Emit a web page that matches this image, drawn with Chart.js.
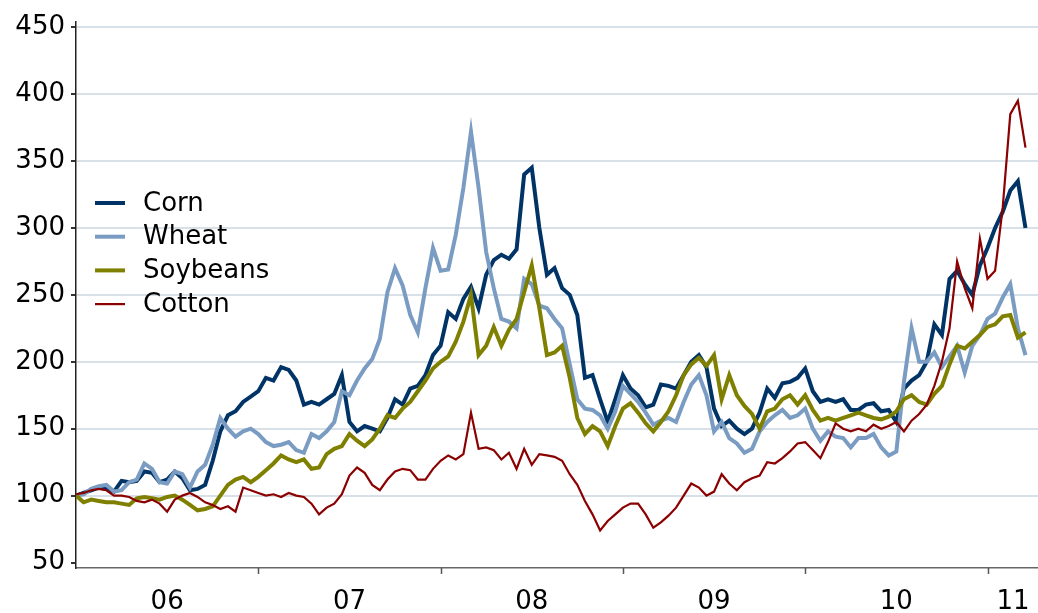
<!DOCTYPE html>
<html>
<head>
<meta charset="utf-8">
<script src="https://cdn.jsdelivr.net/npm/chart.js@4/dist/chart.umd.min.js"></script>
<style>
    html, body { margin: 0; padding: 0; background: #fff; }
    #wrap { width: 1038px; height: 613px; }
</style>
</head>
<body>
<div id="wrap"><canvas id="grains" width="1038" height="613"></canvas></div>
<script>
const startYear = 2006;
const stepsPerYear = 24;

const corn = [
    100, 102, 104, 106, 105, 103, 111, 110, 111, 118,
    117, 110, 112, 118, 113, 104, 105, 108, 126, 148,
    160, 163, 170, 174, 178, 188, 186, 196, 194, 186,
    168, 170, 168, 172, 176, 190, 155, 148, 152, 150,
    148, 158, 172, 168, 180, 182, 190, 205, 212, 237,
    232, 247, 256, 240, 265, 276, 280, 277, 284, 340,
    345, 300, 265, 270, 255, 250, 235, 188, 190, 172,
    155, 172, 190, 180, 175, 166, 168, 183, 182, 180,
    190, 200, 205, 196, 165, 152, 156, 150, 146, 150,
    162, 180, 173, 184, 185, 188, 195, 178, 170, 172,
    170, 172, 164, 164, 168, 169, 163, 164, 155, 180,
    186, 190, 200, 228, 220, 262, 268, 258, 250, 272,
    285, 300, 312, 328, 335, 300
];

const wheat = [
    100, 101, 105, 107, 108, 103, 104, 110, 112, 124,
    120, 110, 109, 118, 116, 106, 118, 123, 138, 158,
    150, 144, 148, 150, 146, 140, 137, 138, 140, 134,
    132, 146, 143, 148, 155, 178, 175, 186, 195, 202,
    217, 252, 270, 257, 235, 222, 255, 285, 268, 269,
    295, 330, 372, 330, 282, 255, 232, 230, 225, 262,
    258, 242, 240, 232, 225, 198, 172, 165, 164, 160,
    150, 163, 182, 176, 170, 162, 153, 156, 158, 155,
    170, 183, 190, 175, 148, 155, 143, 139, 132, 135,
    148, 155, 160, 164, 158, 160, 165, 150, 141, 148,
    144, 143, 136, 143, 143, 146, 136, 130, 133, 185,
    225, 200, 200, 207, 196, 204, 212, 192, 212, 220,
    232, 236, 248, 258, 225, 205
];

const soybeans = [
    100, 95, 97, 96, 95, 95, 94, 93, 98, 99,
    98, 97, 99, 100, 97, 93, 89, 90, 92, 100,
    108, 112, 114, 110, 114, 119, 124, 130, 127, 125,
    127, 120, 121, 131, 135, 137, 146, 141, 137, 142,
    150, 160, 158, 165, 170, 178, 186, 195, 200, 204,
    215, 230, 250, 205, 212, 226, 212, 224, 232, 252,
    272, 240, 205, 207, 212, 188, 158, 146, 152, 148,
    137, 152, 165, 169, 162, 154, 148, 155, 163, 175,
    190, 198, 203, 197, 205, 172, 190, 175, 167, 161,
    150, 163, 165, 172, 175, 168, 175, 164, 156, 158,
    156, 158, 160, 162, 160, 158, 157, 159, 163, 172,
    175, 170, 168, 176, 182, 198, 212, 210, 215, 220,
    226, 228, 234, 235, 218, 222
];

const cotton = [
    101, 102, 104, 105, 104, 100, 100, 99, 96, 95,
    97, 94, 88, 97, 100, 102, 99, 95, 93, 90,
    92, 88, 106, 104, 102, 100, 101, 99, 102, 100,
    99, 94, 86, 91, 94, 101, 115, 121, 117, 108,
    104, 112, 118, 120, 119, 112, 112, 120, 126, 130,
    127, 131, 162, 135, 136, 134, 127, 132, 120, 135,
    123, 131, 130, 129, 126, 116, 108, 96, 86, 74,
    81, 86, 91, 94, 94, 86, 76, 80, 85, 91,
    100, 109, 106, 100, 103, 116, 109, 104, 110, 113,
    115, 125, 124, 128, 133, 139, 140, 134, 128, 140,
    154, 150, 148, 150, 148, 153, 150, 152, 155, 148,
    156, 161, 168, 182, 200, 225, 275, 255, 240, 292,
    262, 268, 315, 385, 395, 360
];

const yTicks = [50, 100, 150, 200, 250, 300, 350, 400, 450];
const yearLabels = ['06', '07', '08', '09', '10', '11'];
const yearLabelPos = [2006.5, 2007.5, 2008.5, 2009.5, 2010.5, 2011.14];
const yearStarts = [2007, 2008, 2009, 2010, 2011];

const toPoints = (arr) => arr.map((v, i) => ({ x: startYear + i / stepsPerYear, y: v }));

const FONT = "'DejaVu Sans', Verdana, sans-serif";

const series = [
    { label: 'Corn', data: corn, color: '#003466', width: 4, order: 4 },
    { label: 'Wheat', data: wheat, color: '#7a9cc2', width: 4, order: 3 },
    { label: 'Soybeans', data: soybeans, color: '#808000', width: 4, order: 2 },
    { label: 'Cotton', data: cotton, color: '#8b0000', width: 2.2, order: 1 }
];

// legend drawn inside the plot, left side
const legendPlugin = {
    id: 'insideLegend',
    afterDatasetsDraw(chart) {
        const ctx = chart.ctx;
        ctx.save();
        ctx.font = '26px ' + FONT;
        ctx.textBaseline = 'middle';
        ctx.fillStyle = '#000';
        series.forEach((s, i) => {
            const y = 203 + i * 33.7;
            ctx.strokeStyle = s.color;
            ctx.lineWidth = s.width;
            ctx.beginPath();
            ctx.moveTo(95, y);
            ctx.lineTo(125, y);
            ctx.stroke();
            ctx.fillText(s.label, 143, y + 1);
        });
        ctx.restore();
    }
};

// tick marks at year boundaries on the x axis
const yearTickPlugin = {
    id: 'yearTicks',
    afterDraw(chart) {
        const xs = chart.scales.x;
        const ctx = chart.ctx;
        ctx.save();
        ctx.strokeStyle = '#555';
        ctx.lineWidth = 1.5;
        yearStarts.forEach(yr => {
            const px = Math.round(xs.getPixelForValue(yr)) + 0.5;
            ctx.beginPath();
            ctx.moveTo(px, xs.top);
            ctx.lineTo(px, xs.top + 6);
            ctx.stroke();
        });
        ctx.restore();
    }
};

new Chart(document.getElementById('grains'), {
    type: 'line',
    data: {
        datasets: series.map(s => ({
            label: s.label,
            data: toPoints(s.data),
            borderColor: s.color,
            backgroundColor: s.color,
            borderWidth: s.width,
            pointRadius: 0,
            tension: 0,
            fill: false,
            order: s.order
        }))
    },
    options: {
        responsive: false,
        animation: false,
        devicePixelRatio: 1,
        layout: { padding: { top: 17, right: 0, left: 0, bottom: 0 } },
        plugins: {
            legend: { display: false },
            tooltip: { enabled: false }
        },
        scales: {
            x: {
                type: 'linear',
                min: 2006,
                max: 2011.277,
                afterBuildTicks: (scale) => { scale.ticks = yearLabelPos.map(v => ({ value: v })); },
                afterFit: (scale) => {
                    scale.height = 45;
                    scale.paddingLeft = 0;
                    scale.paddingRight = 0;
                },
                grid: { display: false, drawTicks: false },
                border: { display: true, color: '#666', width: 1.5 },
                ticks: {
                    autoSkip: false,
                    maxRotation: 0,
                    padding: 19,
                    color: '#000',
                    font: { family: FONT, size: 26 },
                    callback: (value, index) => yearLabels[index]
                }
            },
            y: {
                min: 45.9,
                max: 454.2,
                afterBuildTicks: (scale) => { scale.ticks = yTicks.map(v => ({ value: v })); },
                afterFit: (scale) => { scale.width = 76; },
                grid: {
                    color: (c) => (c.tick && c.tick.value === 50) ? 'rgba(0,0,0,0)' : '#d9e1e8',
                    lineWidth: 2,
                    tickLength: 5,
                    tickColor: '#333'
                },
                border: { display: true, color: '#222', width: 1.5 },
                ticks: {
                    padding: 6,
                    color: '#000',
                    font: { family: FONT, size: 26 }
                }
            }
        }
    },
    plugins: [legendPlugin, yearTickPlugin]
});
</script>
</body>
</html>
